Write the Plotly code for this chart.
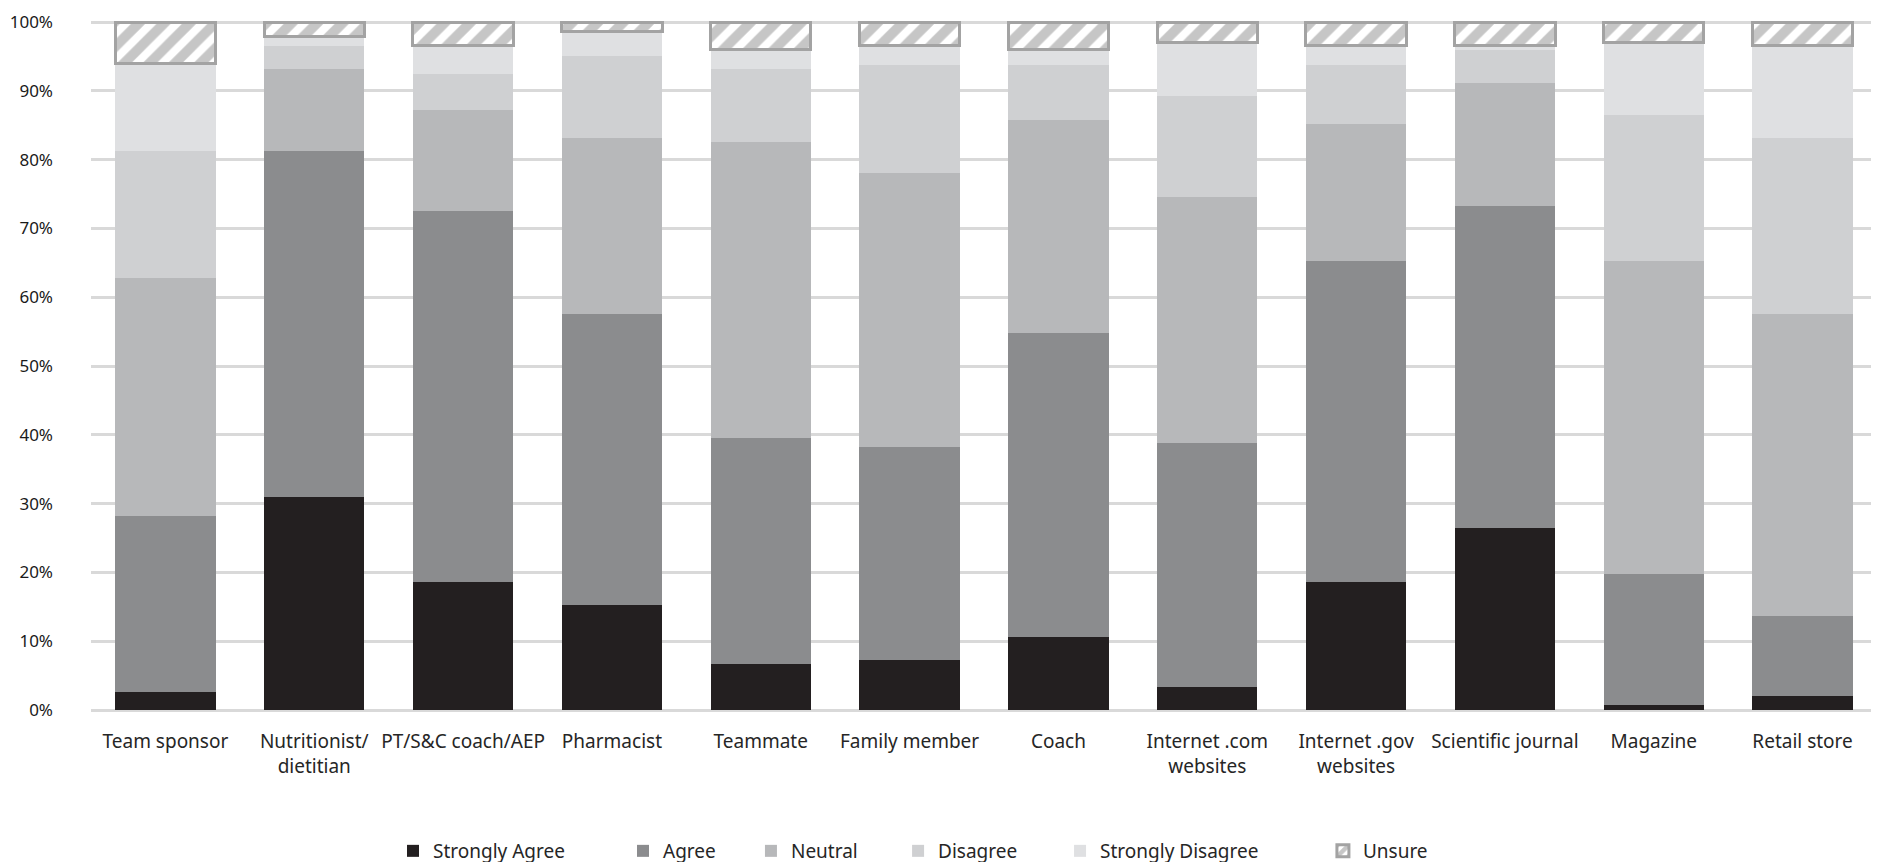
import plotly.graph_objects as go

# sources of information, in the order shown
categories = [
    "Team sponsor", "Nutritionist/<br>dietitian", "PT/S&C coach/AEP", "Pharmacist",
    "Teammate", "Family member", "Coach", "Internet .com<br>websites",
    "Internet .gov<br>websites", "Scientific journal", "Magazine", "Retail store",
]

# percent of respondents per answer
strongly_agree = [2.6, 31.0, 18.6, 15.2, 6.7, 7.3, 10.6, 3.3, 18.6, 26.5, 0.7, 2.0]
agree = [25.6, 50.2, 53.9, 42.3, 32.8, 30.9, 44.2, 35.5, 46.7, 46.7, 19.0, 11.7]
neutral = [34.6, 12.0, 14.7, 25.7, 43.0, 39.8, 31.0, 35.7, 19.9, 18.0, 45.6, 43.8]
disagree = [18.4, 3.3, 5.3, 11.9, 10.7, 15.8, 8.0, 14.7, 8.6, 4.8, 21.2, 25.7]
strongly_disagree = [12.8, 1.4, 4.1, 3.6, 2.8, 2.8, 2.2, 7.9, 2.8, 0.6, 10.6, 13.4]
unsure = [6.0, 2.1, 3.4, 1.3, 4.0, 3.4, 4.0, 2.9, 3.4, 3.4, 2.9, 3.4]

y_ticks = list(range(0, 101, 10))
y_labels = [f"{v}%" for v in y_ticks]

FONT = "Noto Sans, Open Sans, sans-serif"

fig = go.Figure()

solid = [
    ("Strongly Agree", strongly_agree, "#231f20"),
    ("Agree", agree, "#8b8c8e"),
    ("Neutral", neutral, "#b7b8ba"),
    ("Disagree", disagree, "#cfd0d2"),
    ("Strongly Disagree", strongly_disagree, "#dfe0e2"),
]
# one legend per entry so the uneven excel-style spacing can be copied
legend_ids = ["legend", "legend2", "legend3", "legend4", "legend5", "legend6"]
legend_x = [0.2049, 0.3273, 0.3954, 0.4737, 0.5599, 0.6998]

for i, (name, vals, col) in enumerate(solid):
    fig.add_trace(go.Bar(
        x=categories, y=vals, name=name, legend=legend_ids[i],
        marker=dict(color=col, line=dict(width=0)),
    ))

# hatched box on top
fig.add_trace(go.Bar(
    x=categories, y=unsure, name="Unsure", legend=legend_ids[5],
    marker=dict(
        color="white",
        line=dict(color="#a3a3a3", width=3),
        pattern=dict(shape="/", fgcolor="#8e8e8e", bgcolor="white",
                     size=18, solidity=0.55),
    ),
))

legends = {}
for lid, lx in zip(legend_ids, legend_x):
    legends[lid] = dict(
        orientation="h",
        xref="container", yref="container",
        x=lx, xanchor="left",
        y=0.0, yanchor="bottom",
        font=dict(size=19),
        itemwidth=30,
        bgcolor="rgba(0,0,0,0)",
    )

fig.update_layout(
    barmode="stack",
    bargap=0.325,
    width=1879,
    height=862,
    # page has ~8px body margin, so left is pulled in a bit
    margin=dict(l=83, r=10, t=12, b=160),
    paper_bgcolor="white",
    plot_bgcolor="white",
    font=dict(family=FONT, size=19, color="#262626"),
    xaxis=dict(
        showgrid=False,
        showline=False,
        ticks="",
        tickfont=dict(size=19),
        ticklabelstandoff=18,
        automargin=False,
    ),
    yaxis=dict(
        range=[0, 100.3],
        tickvals=y_ticks,
        ticktext=y_labels,
        ticklabeloverflow="allow",
        showgrid=True,
        gridcolor="#d9d9d9",
        gridwidth=2.5,
        zeroline=True,
        zerolinecolor="#d9d9d9",
        zerolinewidth=2.5,
        tickfont=dict(size=17, color="#1a1a1a"),
        ticklabelstandoff=37,
        automargin=False,
    ),
    showlegend=True,
    **legends,
)

fig.write_html("out.html")
